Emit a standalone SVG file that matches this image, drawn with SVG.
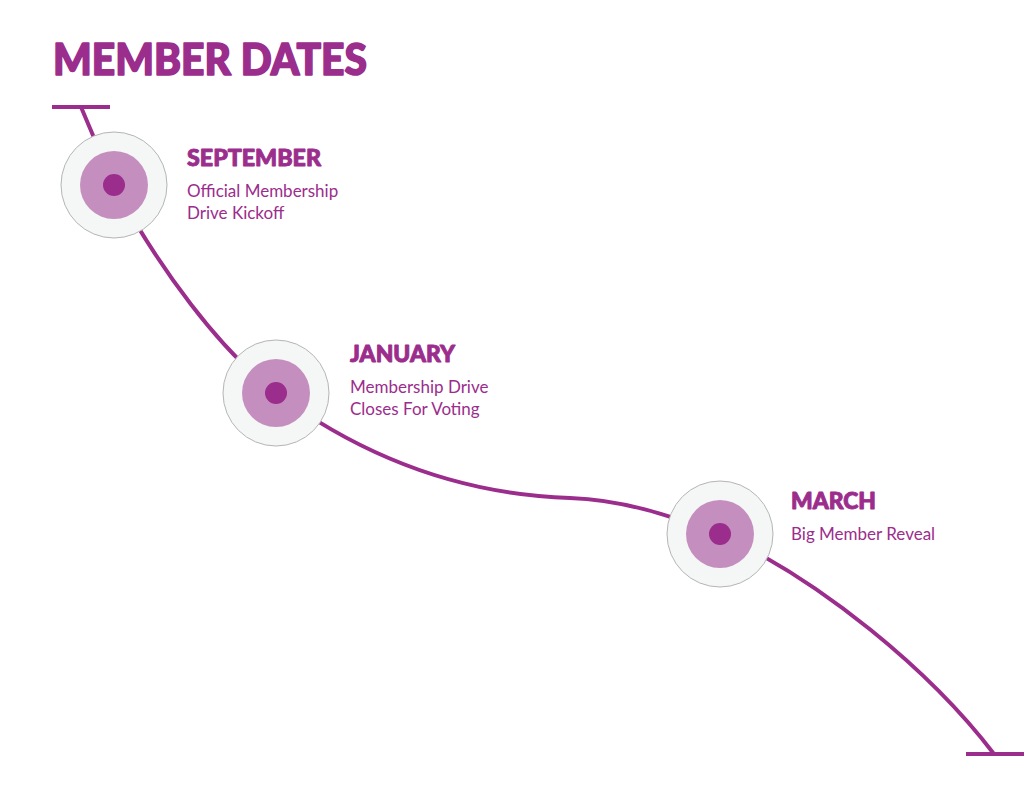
<svg xmlns="http://www.w3.org/2000/svg" width="1024" height="805" viewBox="0 0 1024 805">
<style>
.title{font-family:Lato,"Liberation Sans",sans-serif;font-weight:900;font-size:43px;fill:#9b2d8c;stroke:#9b2d8c;stroke-width:1.6;stroke-linejoin:round}
.h{font-family:Lato,"Liberation Sans",sans-serif;font-weight:900;font-size:22px;fill:#9b2d8c;stroke:#9b2d8c;stroke-width:0.9;stroke-linejoin:round}
.t{font-family:Lato,"Liberation Sans",sans-serif;font-weight:400;font-size:17px;fill:#9b2d8c}
.line{fill:none;stroke:#9b2d8c;stroke-width:4}
.outer{fill:#f5f6f6;stroke:#b5b5b5;stroke-width:1}
.inner{fill:#c48fbf}
.dot{fill:#9b2d8c}
</style>
<rect width="1024" height="805" fill="#fff"/>
<text class="title" x="53" y="75" textLength="314" lengthAdjust="spacingAndGlyphs">MEMBER DATES</text>
<g id="connectors">
<path class="line" d="M52,107 H110"/>
<path class="line" d="M966,754 H1024"/>
<path class="line" d="M81,107 L114,185 C160,270 220,350 276,393 C380,470 480,495 570,498 C630,500 680,520 720,534 C820,580 930,670 994,754"/>
</g>
<g id="node-september">
<circle class="outer" cx="114" cy="185" r="53"/>
<circle class="inner" cx="114" cy="185" r="34"/>
<circle class="dot" cx="114" cy="185" r="11"/>
<text class="h" x="187" y="166" textLength="134" lengthAdjust="spacingAndGlyphs">SEPTEMBER</text>
<text class="t" x="187" y="197">Official Membership</text>
<text class="t" x="187" y="219">Drive Kickoff</text>
</g>
<g id="node-january">
<circle class="outer" cx="276" cy="393" r="53"/>
<circle class="inner" cx="276" cy="393" r="34"/>
<circle class="dot" cx="276" cy="393" r="11"/>
<text class="h" x="350" y="362" textLength="105" lengthAdjust="spacingAndGlyphs">JANUARY</text>
<text class="t" x="350" y="393">Membership Drive</text>
<text class="t" x="350" y="415">Closes For Voting</text>
</g>
<g id="node-march">
<circle class="outer" cx="720" cy="534" r="53"/>
<circle class="inner" cx="720" cy="534" r="34"/>
<circle class="dot" cx="720" cy="534" r="11"/>
<text class="h" x="791" y="509" textLength="85" lengthAdjust="spacingAndGlyphs">MARCH</text>
<text class="t" x="791" y="540">Big Member Reveal</text>
</g>
</svg>
